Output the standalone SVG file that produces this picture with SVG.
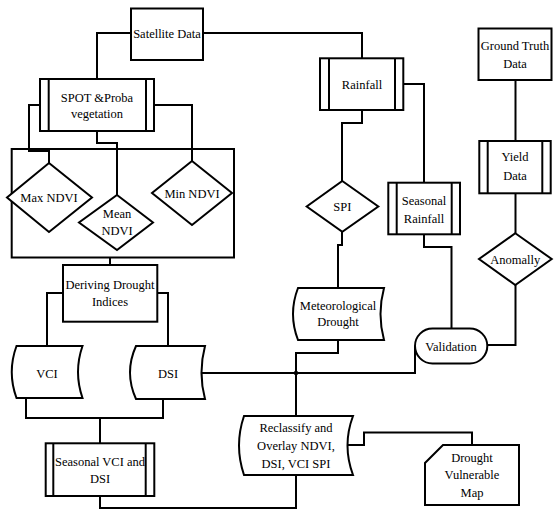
<svg xmlns="http://www.w3.org/2000/svg" width="559" height="518" viewBox="0 0 559 518">
<style>
.s{fill:#fff;stroke:#000;stroke-width:2;stroke-linejoin:miter}
.c{fill:none;stroke:#000;stroke-width:2}
.l{fill:none;stroke:#000;stroke-width:2}
text{font-family:'Liberation Serif','Times New Roman',serif;font-size:12.5px;fill:#000;text-anchor:middle}
</style>
<rect width="559" height="518" fill="#fff"/>
<g id="connectors">
<path class="c" d="M131,33 H97 V79"/>
<path class="c" d="M203,33 H362 V58"/>
<path class="c" d="M40,105 H29 V151 H49 V163"/>
<path class="c" d="M97,131 V143 H117 V195"/>
<path class="c" d="M154,105 H192 V161"/>
<path class="c" d="M110,257 V265"/>
<path class="c" d="M63,293 H47 V346"/>
<path class="c" d="M157,293 H168 V346"/>
<path class="c" d="M26,398 V418 H163 V399"/>
<path class="c" d="M100,418 V443"/>
<path class="c" d="M100,496 V508 H296 V475"/>
<path class="c" d="M202,373 H415 V346"/>
<path class="c" d="M338,340 V353 H296 V416"/>
<circle cx="296" cy="373" r="2.2" fill="#000"/>
<path class="c" d="M362,110 V123 H342 V181"/>
<path class="c" d="M342,232 V245 H338 V288"/>
<path class="c" d="M403,84 H424 V183"/>
<path class="c" d="M424,234 V247 H451.5 V328.5"/>
<path class="c" d="M515.5,80 V141"/>
<path class="c" d="M515.5,193 V233"/>
<path class="c" d="M515.5,285 V345 H487"/>
<path class="c" d="M348,445 H364 V432.5 H472 V445"/>
</g>
<g font-family="'Liberation Serif','Times New Roman',serif">
<g id="satellite">
<rect class="s" x="131" y="8.5" width="72" height="51.5"/>
<text x="167" y="37.5">Satellite Data</text>
</g>
<g id="spot">
<rect class="s" x="40" y="79" width="114" height="52"/>
<line class="l" x1="48.7" y1="79" x2="48.7" y2="131"/>
<line class="l" x1="146" y1="79" x2="146" y2="131"/>
<text x="97" y="101.5">SPOT &amp;Proba</text>
<text x="97" y="117.5">vegetation</text>
</g>
<g id="ndvi-group">
<rect class="c" x="11.7" y="149" width="222.3" height="108.5"/>
</g>
<g id="max-ndvi">
<polygon class="s" points="49,163 92,197.5 49,232 7,197.5"/>
<text x="49" y="202">Max NDVI</text>
</g>
<g id="mean-ndvi">
<polygon class="s" points="117,195 153,222.5 117,250 79,222.5"/>
<text x="117" y="217.5">Mean</text>
<text x="117" y="234.5">NDVI</text>
</g>
<g id="min-ndvi">
<polygon class="s" points="192,161 232,193 192,225 152,193"/>
<text x="192" y="197.5">Min NDVI</text>
</g>
<g id="deriving">
<rect class="s" x="63" y="265" width="94.3" height="56.7"/>
<text x="110" y="288.5">Deriving Drought</text>
<text x="110" y="306">Indices</text>
</g>
<g id="vci">
<path class="s" d="M16.5,346 H82.5 Q73.5,372 82.5,398 H16.5 Q7,372 16.5,346 Z"/>
<text x="47" y="377.5">VCI</text>
</g>
<g id="dsi">
<path class="s" d="M136,346 H205 Q198,372.5 205,399 H136 Q124,372.5 136,346 Z"/>
<text x="168" y="377.5">DSI</text>
</g>
<g id="seasonal-vci">
<rect class="s" x="45.7" y="443.3" width="108.6" height="52.7"/>
<line class="l" x1="53.3" y1="443.3" x2="53.3" y2="496"/>
<line class="l" x1="145.7" y1="443.3" x2="145.7" y2="496"/>
<text x="100" y="465.5">Seasonal VCI and</text>
<text x="100" y="482.5">DSI</text>
</g>
<g id="rainfall">
<rect class="s" x="320" y="58.3" width="83.3" height="51.7"/>
<line class="l" x1="329" y1="58.3" x2="329" y2="110"/>
<line class="l" x1="395" y1="58.3" x2="395" y2="110"/>
<text x="362" y="88.5">Rainfall</text>
</g>
<g id="spi">
<polygon class="s" points="342.3,181 378.3,206.5 342.3,231.7 306.7,206.5"/>
<text x="342.3" y="211">SPI</text>
</g>
<g id="seasonal-rainfall">
<rect class="s" x="388.3" y="182.7" width="71.7" height="51.6"/>
<line class="l" x1="396.7" y1="182.7" x2="396.7" y2="234.3"/>
<line class="l" x1="451.7" y1="182.7" x2="451.7" y2="234.3"/>
<text x="424" y="204.5">Seasonal</text>
<text x="424" y="222.5">Rainfall</text>
</g>
<g id="ground-truth">
<rect class="s" x="478.5" y="28.5" width="73" height="51.5"/>
<text x="515" y="49.5">Ground Truth</text>
<text x="515" y="67.5">Data</text>
</g>
<g id="yield">
<rect class="s" x="479.3" y="141" width="71.4" height="52.3"/>
<line class="l" x1="487.7" y1="141" x2="487.7" y2="193.3"/>
<line class="l" x1="542.3" y1="141" x2="542.3" y2="193.3"/>
<text x="515" y="161">Yield</text>
<text x="515" y="179.5">Data</text>
</g>
<g id="anomally">
<polygon class="s" points="515.3,233.3 551.7,259 515.3,285 479,259"/>
<text x="515.3" y="263.5">Anomally</text>
</g>
<g id="meteorological">
<path class="s" d="M298,288 H384 Q377,314 384,340 H298 Q288,314 298,288 Z"/>
<text x="338" y="309.5">Meteorological</text>
<text x="338" y="326">Drought</text>
</g>
<g id="validation">
<rect class="s" x="415" y="328.5" width="72.3" height="35" rx="17.5" ry="17.5"/>
<text x="451" y="350.5">Validation</text>
</g>
<g id="reclassify">
<path class="s" d="M244,416 H353 Q342,445.5 353,475 H244 Q234,445.5 244,416 Z"/>
<text x="296" y="432">Reclassify and</text>
<text x="296" y="450">Overlay NDVI,</text>
<text x="296" y="468">DSI, VCI SPI</text>
</g>
<g id="vulnerable-map">
<path class="s" d="M443,445 H519 V505 H425 V463 Z"/>
<text x="472" y="461.5">Drought</text>
<text x="472" y="479">Vulnerable</text>
<text x="472" y="496.5">Map</text>
</g>
</g>
</svg>
